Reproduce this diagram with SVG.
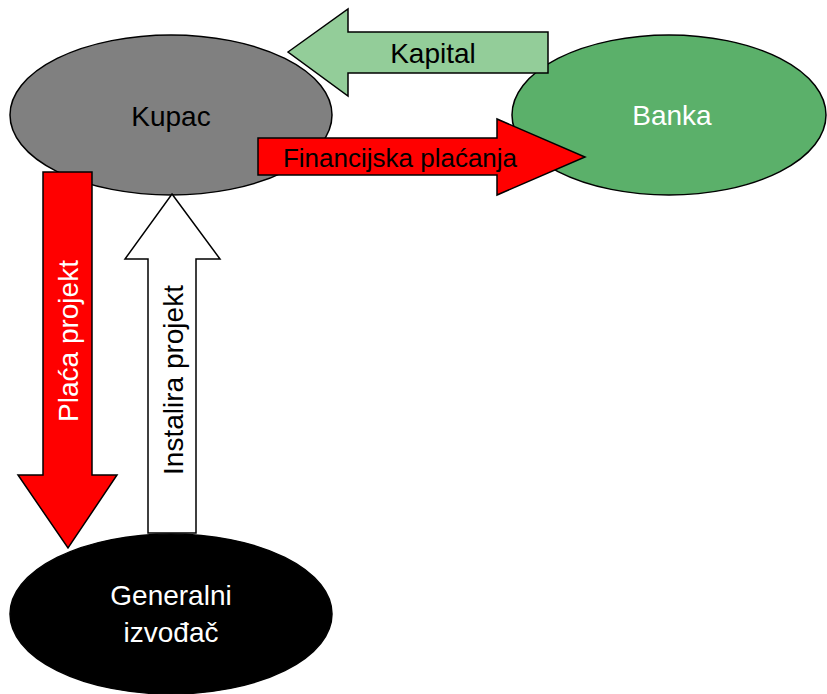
<svg xmlns="http://www.w3.org/2000/svg" width="827" height="694" viewBox="0 0 827 694">
<style>
.n{stroke:#000;stroke-width:1.5}
.a{stroke:#000;stroke-width:1.5;stroke-linejoin:miter}
text{font-family:"Liberation Sans",Arial,sans-serif;font-size:28px;text-anchor:middle}
</style>
<rect width="827" height="694" fill="#fff"/>
<g id="kupac">
<ellipse class="n" cx="171" cy="115" rx="161" ry="80" fill="#808080"/>
<text x="171" y="126" fill="#000">Kupac</text>
</g>
<g id="banka">
<ellipse class="n" cx="669" cy="115" rx="157" ry="80" fill="#5BB06A"/>
<text x="672" y="125" fill="#fff">Banka</text>
</g>
<g id="izvodjac">
<ellipse class="n" cx="171" cy="614" rx="161" ry="80" fill="#000"/>
<text x="171" y="605" fill="#fff">Generalni</text>
<text x="171" y="642" fill="#fff">izvođač</text>
</g>
<g id="connectors">
<g id="kapital">
<polygon class="a" fill="#93CD99" points="288,52 348,9 348,32 548,32 548,73 348,73 348,96"/>
<text x="433" y="63" fill="#000">Kapital</text>
</g>
<g id="financijska">
<polygon class="a" fill="#FF0000" points="258,138 497,138 497,119 585,157 497,195 497,175 258,175"/>
<text x="400" y="167" fill="#000" style="font-size:26px">Financijska plaćanja</text>
</g>
<g id="placa">
<polygon class="a" fill="#FF0000" points="43,172 92,172 92,475 117,475 68,548 18,475 43,475"/>
<text transform="translate(78,341) rotate(-90)" fill="#fff">Plaća projekt</text>
</g>
<g id="instalira">
<polygon class="a" fill="#fff" points="172,194 220,259 196,259 196,533 148,533 148,259 125,259"/>
<text transform="translate(183,380) rotate(-90)" fill="#000">Instalira projekt</text>
</g>
</g>
</svg>
